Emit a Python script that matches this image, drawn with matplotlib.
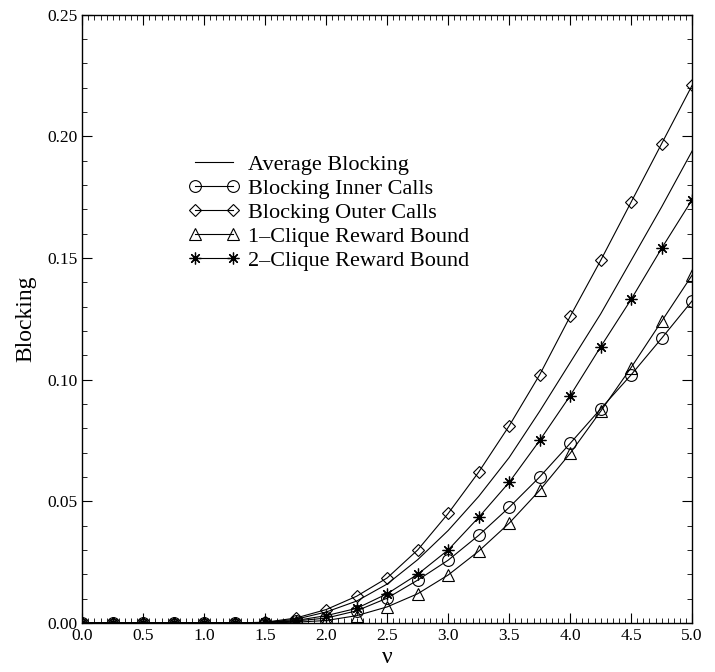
import numpy as np
import matplotlib.pyplot as plt
from matplotlib.ticker import MultipleLocator

plt.rcParams['font.family'] = ['Liberation Serif', 'DejaVu Serif']
plt.rcParams['mathtext.fontset'] = 'stix'

# offered load
nu = [0.0, 0.25, 0.5, 0.75, 1.0, 1.25, 1.5, 1.75, 2.0, 2.25, 2.5,
      2.75, 3.0, 3.25, 3.5, 3.75, 4.0, 4.25, 4.5, 4.75, 5.0]

avg_blocking = [0, 0, 0, 0, 0, 0, 0.0002, 0.0015, 0.0045, 0.009, 0.016,
                0.026, 0.038, 0.052, 0.068, 0.087, 0.107, 0.127, 0.149, 0.171, 0.194]
inner_calls = [0, 0, 0, 0, 0, 0, 0.0001, 0.0008, 0.002, 0.005, 0.0102,
               0.0176, 0.0258, 0.036, 0.0475, 0.060, 0.0738, 0.088, 0.102, 0.117, 0.1324]
outer_calls = [0, 0, 0, 0, 0, 0, 0.0003, 0.002, 0.0055, 0.011, 0.0185,
               0.030, 0.045, 0.062, 0.081, 0.102, 0.126, 0.149, 0.173, 0.197, 0.221]
clique1 = [0, 0, 0, 0, 0, 0, 0, 0.0003, 0.001, 0.003, 0.0066,
           0.012, 0.0197, 0.0295, 0.041, 0.0545, 0.0697, 0.087, 0.105, 0.124, 0.143]
clique2 = [0, 0, 0, 0, 0, 0, 0.0002, 0.001, 0.003, 0.006, 0.012,
           0.020, 0.030, 0.0434, 0.0578, 0.075, 0.0934, 0.1135, 0.133, 0.154, 0.174]

fig = plt.figure(figsize=(7.15, 6.72), dpi=100)
ax = fig.add_axes([0.115, 0.073, 0.853, 0.905])

lw = 0.8
ms = 8.5
ax.plot(nu, avg_blocking, '-', color='black', lw=lw, label='Average Blocking')
ax.plot(nu, inner_calls, '-', color='black', lw=lw, marker='o', ms=ms,
        mfc='none', mec='black', mew=0.8, label='Blocking Inner Calls')
ax.plot(nu, outer_calls, '-', color='black', lw=lw, marker='D', ms=6.5,
        mfc='none', mec='black', mew=0.8, label='Blocking Outer Calls')
ax.plot(nu, clique1, '-', color='black', lw=lw, marker='^', ms=ms,
        mfc='none', mec='black', mew=0.8, label='1\u2013Clique Reward Bound')
ax.plot(nu, clique2, '-', color='black', lw=lw, marker=(8, 2, 0), ms=ms,
        mec='black', mew=0.9, label='2\u2013Clique Reward Bound')

ax.set_xlim(0, 5)
ax.set_ylim(0, 0.25)
ax.xaxis.set_major_locator(MultipleLocator(0.5))
ax.xaxis.set_minor_locator(MultipleLocator(0.05))
ax.yaxis.set_major_locator(MultipleLocator(0.05))
ax.yaxis.set_minor_locator(MultipleLocator(0.01))
ax.xaxis.set_major_formatter(plt.FormatStrFormatter('%.1f'))
ax.yaxis.set_major_formatter(plt.FormatStrFormatter('%.2f'))
ax.tick_params(which='both', direction='in', top=True, right=True, labelsize=12.5)
ax.tick_params(which='major', length=7, width=0.8)
ax.tick_params(which='minor', length=3.5, width=0.6)
for s in ax.spines.values():
    s.set_linewidth(1.0)

ax.set_xlabel('\u03bd', fontsize=17, labelpad=2)
ax.set_ylabel('Blocking', fontsize=17, labelpad=8)

ax.legend(loc='upper left', bbox_to_anchor=(0.16, 0.785), frameon=False,
          fontsize=16, numpoints=2, handlelength=2.3, handletextpad=0.35,
          labelspacing=0.15, borderaxespad=0)

fig.savefig('out.png', dpi=100)
